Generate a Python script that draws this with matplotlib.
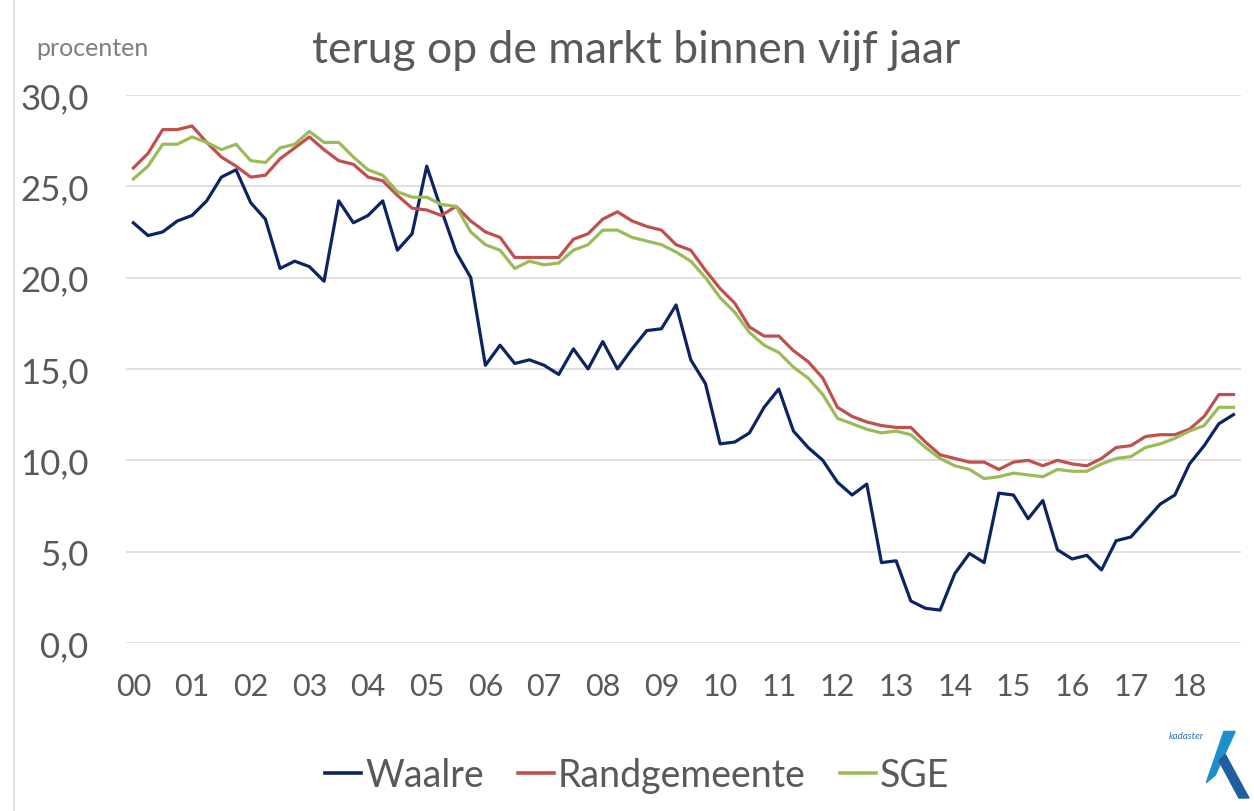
import matplotlib
matplotlib.use("Agg")
import matplotlib.pyplot as plt
from matplotlib.patches import Polygon
from matplotlib.lines import Line2D

# quarterly values 2000 Q1 .. 2018 Q4 (percent back on market within 5 years)
waalre = [23.0, 22.3, 22.5, 23.1, 23.4, 24.2, 25.5, 25.9, 24.1, 23.2,
          20.5, 20.9, 20.6, 19.8, 24.2, 23.0, 23.4, 24.2, 21.5, 22.4,
          26.1, 23.7, 21.4, 20.0, 15.2, 16.3, 15.3, 15.5, 15.2, 14.7,
          16.1, 15.0, 16.5, 15.0, 16.1, 17.1, 17.2, 18.5, 15.5, 14.2,
          10.9, 11.0, 11.5, 12.9, 13.9, 11.6, 10.7, 10.0, 8.8, 8.1,
          8.7, 4.4, 4.5, 2.3, 1.9, 1.8, 3.8, 4.9, 4.4, 8.2,
          8.1, 6.8, 7.8, 5.1, 4.6, 4.8, 4.0, 5.6, 5.8, 6.7,
          7.6, 8.1, 9.8, 10.8, 12.0, 12.5]
randgemeente = [26.0, 26.8, 28.1, 28.1, 28.3, 27.4, 26.6, 26.1, 25.5, 25.6,
                26.5, 27.1, 27.7, 27.0, 26.4, 26.2, 25.5, 25.3, 24.5, 23.8,
                23.7, 23.4, 23.9, 23.1, 22.5, 22.2, 21.1, 21.1, 21.1, 21.1,
                22.1, 22.4, 23.2, 23.6, 23.1, 22.8, 22.6, 21.8, 21.5, 20.4,
                19.4, 18.6, 17.3, 16.8, 16.8, 16.0, 15.4, 14.5, 12.9, 12.4,
                12.1, 11.9, 11.8, 11.8, 11.0, 10.3, 10.1, 9.9, 9.9, 9.5,
                9.9, 10.0, 9.7, 10.0, 9.8, 9.7, 10.1, 10.7, 10.8, 11.3,
                11.4, 11.4, 11.7, 12.4, 13.6, 13.6]
sge = [25.4, 26.1, 27.3, 27.3, 27.7, 27.4, 27.0, 27.3, 26.4, 26.3,
       27.1, 27.3, 28.0, 27.4, 27.4, 26.6, 25.9, 25.6, 24.7, 24.4,
       24.4, 24.0, 23.9, 22.5, 21.8, 21.5, 20.5, 20.9, 20.7, 20.8,
       21.5, 21.8, 22.6, 22.6, 22.2, 22.0, 21.8, 21.4, 20.9, 20.0,
       18.9, 18.1, 17.0, 16.3, 15.9, 15.1, 14.5, 13.6, 12.3, 12.0,
       11.7, 11.5, 11.6, 11.4, 10.7, 10.1, 9.7, 9.5, 9.0, 9.1,
       9.3, 9.2, 9.1, 9.5, 9.4, 9.4, 9.8, 10.1, 10.2, 10.7,
       10.9, 11.2, 11.6, 11.9, 12.9, 12.9]
year_labels = ["00", "01", "02", "03", "04", "05", "06", "07", "08", "09",
               "10", "11", "12", "13", "14", "15", "16", "17", "18"]
y_ticks = [0, 5, 10, 15, 20, 25, 30]

plt.rcParams['font.family'] = ['Lato', 'DejaVu Sans']
txt = '#595959'
colors = ['#0c2461', '#c0504d', '#9bbb59']

fig = plt.figure(figsize=(12.54, 8.12), dpi=100)
ax = fig.add_axes([0.1005, 0.2069, 0.889, 0.675])

x = list(range(len(waalre)))
ax.plot(x, waalre, color=colors[0], lw=2.3, label='Waalre')
ax.plot(x, randgemeente, color=colors[1], lw=2.3, label='Randgemeente')
ax.plot(x, sge, color=colors[2], lw=2.3, label='SGE')

ax.set_xlim(-0.5, len(waalre) - 0.5)
ax.set_ylim(0, 30)
ax.set_yticks(y_ticks)
ax.set_yticklabels([('%.1f' % v).replace('.', ',') for v in y_ticks])
ax.set_xticks([4 * k for k in range(len(year_labels))])
ax.set_xticklabels(year_labels)
ax.tick_params(axis='y', length=0, pad=27, labelsize=25, labelcolor=txt)
ax.tick_params(axis='x', length=0, pad=21, labelsize=22, labelcolor=txt)
ax.grid(axis='y', color='#d9d9d9', lw=1.2)
ax.set_axisbelow(True)
for s in ax.spines.values():
    s.set_visible(False)

fig.text(0.5076, 0.938, 'terug op de markt binnen vijf jaar', ha='center', va='center',
         fontsize=32, color=txt)
fig.text(0.029, 0.94, 'procenten', ha='left', va='center', fontsize=18, color='#7f7f7f')

handles = [Line2D([], [], color=c, lw=2.6) for c in colors]
fig.legend(handles, ['Waalre', 'Randgemeente', 'SGE'], loc='center',
           bbox_to_anchor=(0.508, 0.044), ncol=3, frameon=False, fontsize=27,
           handlelength=0.96, handletextpad=0.12, columnspacing=0.9, labelcolor=txt,
           borderpad=0)

# left frame line
fig.add_artist(Line2D([0.011, 0.011], [0, 1], color='#d9d9d9', lw=1.2))

# kadaster logo
fig.text(0.932, 0.09, 'kadaster', style='italic', fontsize=7, color='#2e75b6', ha='left')
fig.add_artist(Polygon([[0.976, 0.098], [0.985, 0.098], [0.969, 0.044], [0.962, 0.035]],
                       closed=True, color='#1f8fc9', transform=fig.transFigure))
fig.add_artist(Polygon([[0.972, 0.062], [0.977, 0.07], [0.996, 0.016], [0.988, 0.016]],
                       closed=True, color='#1f5f9f', transform=fig.transFigure))

fig.savefig('out.png', dpi=100)
